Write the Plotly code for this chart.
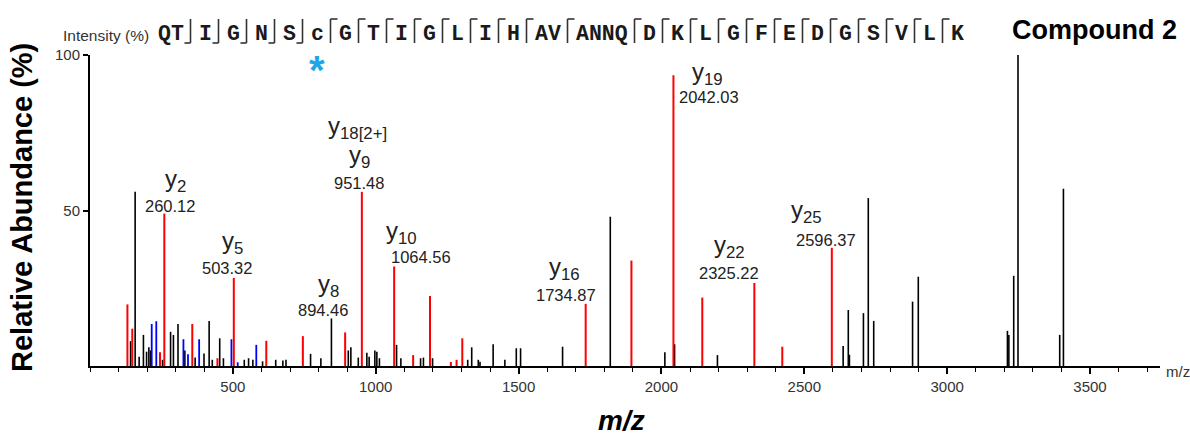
import plotly.graph_objects as go

# ---------------- data ----------------
black_mz = [142, 158, 172, 187, 198, 206, 212, 254, 282, 292, 308, 332, 368, 399, 417, 428, 454, 467,
            540, 555, 570, 604, 650, 675, 686, 772, 808, 845, 904, 913, 939, 969, 977, 997, 1004, 1013,
            1073, 1088, 1157, 1167, 1199, 1322, 1336, 1359, 1365, 1411, 1452, 1492, 1507, 1654, 1821,
            2012, 2046, 2196, 2636, 2654, 2658, 2707, 2724, 2743, 2879, 2899, 3211, 3216, 3233, 3248,
            3394, 3407]
black_int = [8, 56, 3, 10, 4.6, 6, 5, 2, 11, 10, 13.5, 5, 2.7, 4, 14.5, 2, 8.9, 2.5,
             2, 2.5, 2, 1.5, 2, 1.8, 2, 3.9, 2.5, 15.3, 5, 6, 2.7, 4.3, 3, 5, 4.6, 2.5,
             6.8, 2.5, 2.5, 2.7, 2.5, 2, 6, 2, 1.4, 7, 2, 5.7, 5.7, 6.2, 48,
             4.4, 7, 3.5, 6.4, 18, 3.6, 17, 54, 14.5, 20.7, 28.7, 11.3, 10, 29, 100,
             10, 57]

red_mz = [131, 148, 245, 260.12, 358, 446, 503.32, 617, 745, 893, 951.48, 1064.56, 1131, 1190,
          1263, 1283, 1303, 1734.87, 1895, 2042.03, 2143, 2325.22, 2423, 2596.37]
red_int = [19.8, 12, 4.4, 49, 13.5, 2.5, 28.3, 8.1, 9.6, 10.8, 56, 32, 3.5, 22.5,
           1.3, 2, 8.9, 20, 33.9, 93.5, 22, 26.7, 6.2, 38]

blue_mz = [216, 232, 327, 343, 382, 495, 517, 582]
blue_int = [13.5, 14.4, 8.6, 3.8, 8.6, 8.6, 1.2, 6.8]

# labelled fragment ions
ion_names = ["y<sub>2</sub>", "y<sub>5</sub>", "y<sub>8</sub>", "y<sub>9</sub>", "y<sub>10</sub>",
             "y<sub>16</sub>", "y<sub>19</sub>", "y<sub>22</sub>", "y<sub>25</sub>"]
ion_mz_text = ["260.12", "503.32", "894.46", "951.48", "1064.56", "1734.87", "2042.03", "2325.22", "2596.37"]
ion_peak_mz = [260.12, 503.32, 845, 951.48, 1064.56, 1734.87, 2042.03, 2325.22, 2596.37]
extra_ion = "y<sub>18[2+]</sub>"   # shares the 951.48 peak with y9

sequence_groups = ["QT", "I", "G", "N", "S", "c", "G", "T", "I", "G", "L", "I", "H", "AV", "ANNQ",
                   "D", "K", "L", "G", "F", "E", "D", "G", "S", "V", "L", "K"]
n_terminal_breaks = 5   # first separators are of the "b" (bottom) kind

x_ticks = [500, 1000, 1500, 2000, 2500, 3000, 3500]
y_ticks = [50, 100]

# ---------------- layout helpers ----------------
W, H = 1190, 436
ML, MR, MT, MB = 90, 30, 55, 70
PW, PH = W - ML - MR, H - MT - MB


def px_x(px):
    return (px - ML) / PW


def px_y(py):
    return (H - MB - py) / PH


def stems(mz, ints):
    xs, ys = [], []
    for m, v in zip(mz, ints):
        xs += [m, m, None]
        ys += [0, v, None]
    return xs, ys


fig = go.Figure()
for mz, ints, col, w in [(black_mz, black_int, "#000000", 1.6),
                         (blue_mz, blue_int, "#0000ff", 1.8),
                         (red_mz, red_int, "#ff0000", 2.0)]:
    xs, ys = stems(mz, ints)
    fig.add_trace(go.Scatter(x=xs, y=ys, mode="lines", line=dict(color=col, width=w),
                             hoverinfo="skip", showlegend=False))

annotations = []
shapes = []

# ion label offsets in pixels (ion label dx, dy ; number dx, dy)
label_offsets = [(11, 33, 6, 8), (-1, 35, -7, 10), (-3, 33, -8, 8), (-2, 35, -3, 9), (7, 34, 27, 9),
                 (-21, 35, -20, 9), (34, 2, 36, -22), (-25, 36, -25, 10), (-25, 36, -6, 8)]
all_mz = black_mz + red_mz
all_int = black_int + red_int
ion_font = dict(family="Arial", size=24, color="#222")
num_font = dict(family="Arial", size=16.5, color="#222")
for name, txt, pm, (idx, idy, ndx, ndy) in zip(ion_names, ion_mz_text, ion_peak_mz, label_offsets):
    h = all_int[all_mz.index(pm)]
    annotations.append(dict(x=pm, y=h, xref="x", yref="y", text=name, showarrow=False,
                            xshift=idx, yshift=idy, font=ion_font,
                            xanchor="center", yanchor="middle"))
    annotations.append(dict(x=pm, y=h, xref="x", yref="y", text=txt, showarrow=False,
                            xshift=ndx, yshift=ndy, font=num_font,
                            xanchor="center", yanchor="middle"))
    if txt == "951.48":
        annotations.append(dict(x=pm, y=h, xref="x", yref="y", text=extra_ion, showarrow=False,
                                xshift=-4, yshift=64, font=ion_font,
                                xanchor="center", yanchor="middle"))

# sequence with fragment brackets
char_w, gap = 13.0, 15.0
x = 157.0
seq_y = 34
c_center = None
for i, g in enumerate(sequence_groups):
    annotations.append(dict(x=px_x(x), y=px_y(seq_y), xref="paper", yref="paper", text="<b>" + g + "</b>",
                            showarrow=False, xanchor="left", yanchor="middle",
                            font=dict(family="Courier New, Liberation Mono, monospace", size=21.5,
                                      color="#1a1a1a"), borderpad=0))
    if g == "c":
        c_center = x + len(g) * char_w / 2
    x += len(g) * char_w
    if i < len(sequence_groups) - 1:
        sx = x + gap / 2
        line = dict(color="#333", width=1.6)
        shapes.append(dict(type="line", xref="paper", yref="paper", x0=px_x(sx), x1=px_x(sx),
                           y0=px_y(19), y1=px_y(43), line=line))
        if i < n_terminal_breaks:
            shapes.append(dict(type="line", xref="paper", yref="paper", x0=px_x(sx - 6), x1=px_x(sx),
                               y0=px_y(43), y1=px_y(43), line=line))
        else:
            shapes.append(dict(type="line", xref="paper", yref="paper", x0=px_x(sx), x1=px_x(sx + 7),
                               y0=px_y(19), y1=px_y(19), line=line))
        x += gap

annotations.append(dict(x=px_x(c_center), y=px_y(60), xref="paper", yref="paper", text="<b>*</b>",
                        showarrow=False, xanchor="center", yanchor="top", yshift=14,
                        font=dict(family="Arial", size=40, color="#1ba6ea")))
annotations.append(dict(x=px_x(151), y=px_y(36), xref="paper", yref="paper", text="Intensity (%)",
                        showarrow=False, xanchor="right", yanchor="middle",
                        font=dict(family="Arial", size=15.5, color="#333")))
annotations.append(dict(x=px_x(1094), y=px_y(30), xref="paper", yref="paper", text="<b>Compound 2</b>",
                        showarrow=False, xanchor="center", yanchor="middle",
                        font=dict(family="Arial", size=27, color="#000")))
annotations.append(dict(x=px_x(22), y=px_y(208), xref="paper", yref="paper", text="<b>Relative Abundance (%)</b>",
                        showarrow=False, textangle=-90, xanchor="center", yanchor="middle",
                        font=dict(family="Arial", size=29, color="#000")))
annotations.append(dict(x=px_x(621), y=px_y(420), xref="paper", yref="paper", text="<b><i>m/z</i></b>",
                        showarrow=False, xanchor="center", yanchor="middle",
                        font=dict(family="Arial", size=28, color="#000")))
annotations.append(dict(x=px_x(1164), y=px_y(371), xref="paper", yref="paper", text="m/z",
                        showarrow=False, xanchor="left", yanchor="middle",
                        font=dict(family="Arial", size=15, color="#333")))

tick_font = dict(family="Arial", size=15, color="#333")
fig.update_layout(
    width=W, height=H,
    margin=dict(l=ML, r=MR, t=MT, b=MB),
    paper_bgcolor="white", plot_bgcolor="white",
    annotations=annotations, shapes=shapes,
    xaxis=dict(range=[0, 3745], tickmode="array", tickvals=x_ticks, ticks="outside", ticklen=6,
               tickwidth=1.5, tickcolor="#000", showline=True, linecolor="#000", linewidth=2,
               showgrid=False, zeroline=False, tickfont=tick_font,
               minor=dict(tickmode="linear", tick0=0, dtick=100, ticks="outside", ticklen=4,
                          tickwidth=1.2, tickcolor="#000", showgrid=False)),
    yaxis=dict(range=[0, 100], tickmode="array", tickvals=y_ticks, ticks="outside", ticklen=5,
               tickwidth=1.5, tickcolor="#000", showline=True, linecolor="#000", linewidth=2,
               showgrid=False, zeroline=False, tickfont=tick_font),
)

fig.write_html("out.html")
